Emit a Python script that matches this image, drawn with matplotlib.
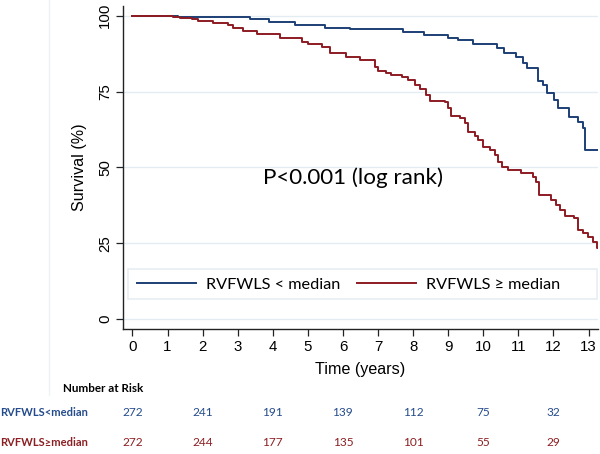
import matplotlib
matplotlib.use("Agg")
import matplotlib.pyplot as plt
from matplotlib.lines import Line2D
from matplotlib.patches import Rectangle

# ---- data ----
blue_times = [0, 1.30, 3.35, 3.90, 4.63, 5.48, 6.20, 7.70, 8.30, 9.00, 9.27, 9.70,
              10.40, 10.60, 10.94, 11.12, 11.26, 11.57, 11.69, 11.81, 12.03, 12.14,
              12.43, 12.69, 12.83, 12.89, 13.27]
blue_surv = [100, 99.5, 98.9, 98.0, 96.9, 96.0, 95.5, 94.5, 93.7, 92.7, 91.9, 90.6,
             89.2, 87.8, 86.5, 84.4, 82.7, 78.6, 77.0, 74.4, 72.2, 69.5,
             66.7, 65.0, 62.9, 55.6, 55.6]

red_times = [0, 1.16, 1.36, 1.69, 1.87, 2.30, 2.73, 2.87, 3.15, 3.54, 4.20, 4.82, 5.00,
             5.39, 5.63, 6.10, 6.48, 6.91, 7.00, 7.24, 7.38, 7.67, 7.86, 8.05, 8.19,
             8.38, 8.48, 8.90, 9.00, 9.09, 9.33, 9.47, 9.56, 9.75, 9.85, 9.99, 10.18,
             10.32, 10.42, 10.52, 10.70, 11.08, 11.42, 11.51, 11.59, 11.94, 12.08,
             12.18, 12.32, 12.60, 12.70, 12.84, 12.98, 13.14, 13.24, 13.27]
red_surv = [100, 99.5, 99.1, 98.8, 98.3, 97.5, 96.9, 95.8, 95.0, 93.9, 92.5, 91.4, 90.6,
            89.8, 87.8, 86.5, 85.4, 83.2, 81.9, 81.0, 80.4, 79.9, 78.8, 77.2, 75.7,
            73.9, 72.0, 71.6, 69.5, 66.9, 66.2, 64.5, 61.8, 60.3, 59.0, 56.8, 55.7,
            54.0, 51.9, 50.2, 49.1, 48.3, 46.9, 45.3, 40.9, 39.2, 37.6,
            35.9, 34.0, 33.2, 29.3, 28.3, 26.9, 25.5, 23.3, 23.3]

x_ticks = list(range(0, 14))
y_ticks = [0, 25, 50, 75, 100]
risk_times = [0, 2, 4, 6, 8, 10, 12]
risk_blue = [272, 241, 191, 139, 112, 75, 32]
risk_red = [272, 244, 177, 135, 101, 55, 29]
group_labels = ["RVFWLS < median", "RVFWLS \u2265 median"]
risk_labels = ["RVFWLS<median", "RVFWLS\u2265median"]

BLUE = "#1c3f75"
RED = "#8e1b22"
BLUE_TXT = "#254c8c"
RED_TXT = "#8b1f22"

W, H = 600, 454
fig = plt.figure(figsize=(W / 100, H / 100), dpi=100)
ax_l, ax_r, ax_t, ax_b = 123, 598, 6, 329
ax = fig.add_axes([ax_l / W, 1 - ax_b / H, (ax_r - ax_l) / W, (ax_b - ax_t) / H])

ax.step(blue_times, blue_surv, where="post", color=BLUE, lw=1.4, label=group_labels[0])
ax.step(red_times, red_surv, where="post", color=RED, lw=1.4, label=group_labels[1])

ax.set_xlim(-0.27, 13.27)
ax.set_ylim(-3.3, 103.2)
ax.set_xticks(x_ticks)
ax.set_yticks(y_ticks)
ax.grid(axis="y", color="#e3ecf2", lw=1.0)
ax.set_axisbelow(True)
for s in ["top", "right"]:
    ax.spines[s].set_visible(False)
for s in ["left", "bottom"]:
    ax.spines[s].set_color("#222222")
    ax.spines[s].set_linewidth(1.0)

tick_font = dict(family=["Liberation Sans", "DejaVu Sans"], size=10.8)
ax.tick_params(axis="both", direction="out", length=5, width=0.9, color="#222222")
ax.set_xticklabels([str(t) for t in x_ticks], **tick_font)
ax.set_yticklabels([str(t) for t in y_ticks], rotation=90, va="center", **tick_font)
ax.tick_params(axis="x", pad=3)
ax.tick_params(axis="y", pad=3)

ax.set_xlabel("Time (years)", fontsize=11.6, family=["Liberation Sans", "DejaVu Sans"], labelpad=6)
ax.set_ylabel("Survival (%)", fontsize=11.6, family=["Liberation Sans", "DejaVu Sans"], labelpad=8)

fig.text(263 / W, 1 - 178 / H, "P<0.001 (log rank)", fontsize=16.1,
         family=["Lato", "DejaVu Sans"], va="center", ha="left")

# legend box and entries
ax.add_patch(Rectangle(((128 - ax_l) / (ax_r - ax_l), (ax_b - 299) / (ax_b - ax_t)),
                       (597 - 128) / (ax_r - ax_l), 30 / (ax_b - ax_t),
                       transform=ax.transAxes, facecolor="white", edgecolor="#e6edf2",
                       lw=1.2, zorder=3))
leg = ax.legend(loc="center left",
                bbox_to_anchor=((137 - ax_l) / (ax_r - ax_l), (ax_b - 284.5) / (ax_b - ax_t)),
                ncol=2, frameon=False,
                prop=dict(family=["Lato", "DejaVu Sans"], size=11.7),
                handlelength=3.6, handletextpad=0.62, columnspacing=1.05,
                borderpad=0, borderaxespad=0)
leg.set_zorder(4)

# faint panel edge (image artifact)
fig.add_artist(Line2D([49 / W, 49 / W], [1 - 395 / H, 1.0], transform=fig.transFigure,
                      color="#eef2f5", lw=1))

# number at risk table
lab_font = ["Lato", "DejaVu Sans"]
fig.text(63 / W, 1 - 389 / H, "Number at Risk", fontsize=8.4, fontweight="bold",
         family=lab_font, va="center", ha="left")
rows = [(413, risk_labels[0], risk_blue, BLUE_TXT), (442, risk_labels[1], risk_red, RED_TXT)]
for ypix, lab, vals, col in rows:
    fig.text(0 / W, 1 - ypix / H, lab, fontsize=8.0, fontweight="bold", family=lab_font,
             color=col, va="center", ha="left")
    for t, v in zip(risk_times, vals):
        xf = fig.transFigure.inverted().transform(ax.transData.transform((t, 0)))[0]
        fig.text(xf, 1 - ypix / H, str(v), fontsize=8.6, family=lab_font, color=col,
                 va="center", ha="center")

fig.savefig("out.png", dpi=100)
